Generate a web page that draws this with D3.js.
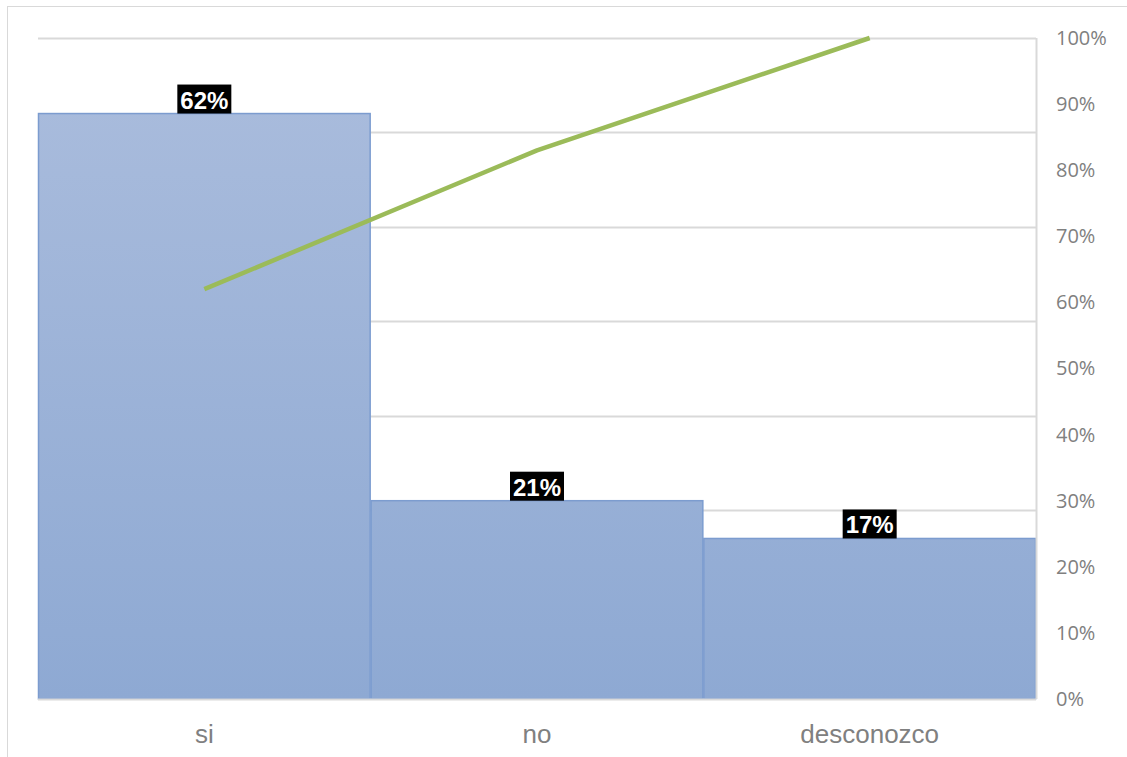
<!DOCTYPE html>
<html><head><meta charset="utf-8">
<script src="https://cdn.jsdelivr.net/npm/d3@7"></script>
<style>body{margin:0;background:#fff;font-family:"Liberation Sans",Arial,sans-serif;}</style>
</head><body><svg id="c" width="1127" height="757"></svg>
<script>
const categories = ["si", "no", "desconozco"];
const counts = [62, 21, 17];
const barLabels = ["62%", "21%", "17%"];
const cumulative = [62, 83, 100];
const primaryTicks = [0, 10, 20, 30, 40, 50, 60, 70];
const secondaryTicks = [0, 10, 20, 30, 40, 50, 60, 70, 80, 90, 100];

const svg = d3.select("#c");
const L = 38, R = 1036, T = 38, B = 699;

svg.append("rect").attr("x", 7.5).attr("y", 6.5).attr("width", 1130).attr("height", 760)
  .attr("fill", "#fff").attr("stroke", "#d9d9d9").attr("stroke-width", 1);

const x = d3.scaleBand().domain(categories).range([L, R]).padding(0);
const y1 = d3.scaleLinear().domain([0, 70]).range([B, T]);
const y2 = d3.scaleLinear().domain([0, 100]).range([B, T]);

const defs = svg.append("defs");
const g = defs.append("linearGradient").attr("id", "bg")
  .attr("gradientUnits", "userSpaceOnUse").attr("x1", 0).attr("y1", T).attr("x2", 0).attr("y2", B);
g.append("stop").attr("offset", "0%").attr("stop-color", "#abbddd");
g.append("stop").attr("offset", "100%").attr("stop-color", "#8ea9d3");

// gridlines
svg.append("g").selectAll("line").data(primaryTicks.slice(1)).join("line")
  .attr("x1", L).attr("x2", R)
  .attr("y1", d => Math.round(y1(d)) + 0.5).attr("y2", d => Math.round(y1(d)) + 0.5)
  .attr("stroke", "#d9d9d9").attr("stroke-width", 2);

// bars
svg.append("g").selectAll("rect").data(categories).join("rect")
  .attr("x", d => x(d) + 0.5).attr("width", x.bandwidth() - 1)
  .attr("y", (d, i) => y1(counts[i])).attr("height", (d, i) => B - y1(counts[i]))
  .attr("fill", "url(#bg)").attr("stroke", "#7c9ccf").attr("stroke-width", 1.5);

// baseline
svg.append("line").attr("x1", L).attr("x2", R).attr("y1", B + 0.5).attr("y2", B + 0.5)
  .attr("stroke", "#d9d9d9").attr("stroke-width", 2);

// secondary axis line
svg.append("line").attr("x1", R + 0.5).attr("x2", R + 0.5).attr("y1", T).attr("y2", B)
  .attr("stroke", "#d9d9d9").attr("stroke-width", 2);

// secondary axis
const ax2 = d3.axisRight(y2).tickValues(secondaryTicks).tickFormat(d => d + "%").tickSize(0).tickPadding(20);
const ga = svg.append("g").attr("transform", `translate(${R},0)`).call(ax2);
ga.select(".domain").remove();
ga.selectAll("text").attr("fill", "#808080").style("font-size", "20px")
  .style("font-family", "'Open Sans', 'Liberation Sans', Arial, sans-serif");

// x axis
const axx = d3.axisBottom(x).tickSize(0).tickPadding(26);
const gx = svg.append("g").attr("transform", `translate(0,${B})`).call(axx);
gx.select(".domain").remove();
gx.selectAll("text").attr("fill", "#808080").style("font-size", "26px")
  .style("font-family", "'Liberation Sans', Arial, sans-serif");

// pareto line
const line = d3.line().x((d, i) => x(categories[i]) + x.bandwidth() / 2).y(d => y2(d));
svg.append("path").datum(cumulative).attr("d", line)
  .attr("fill", "none").attr("stroke", "#9bbb59").attr("stroke-width", 4.5).attr("stroke-linejoin", "round");

// data labels
const lg = svg.append("g").selectAll("g").data(categories).join("g")
  .attr("transform", (d, i) => `translate(${x(d) + x.bandwidth() / 2},${y1(counts[i])})`);
lg.append("rect").attr("x", -27).attr("y", -29).attr("width", 54).attr("height", 29).attr("fill", "#000");
lg.append("text").text((d, i) => barLabels[i]).attr("text-anchor", "middle").attr("y", -5)
  .attr("fill", "#fff").style("font-weight", "bold").style("font-size", "24px");
</script></body></html>
